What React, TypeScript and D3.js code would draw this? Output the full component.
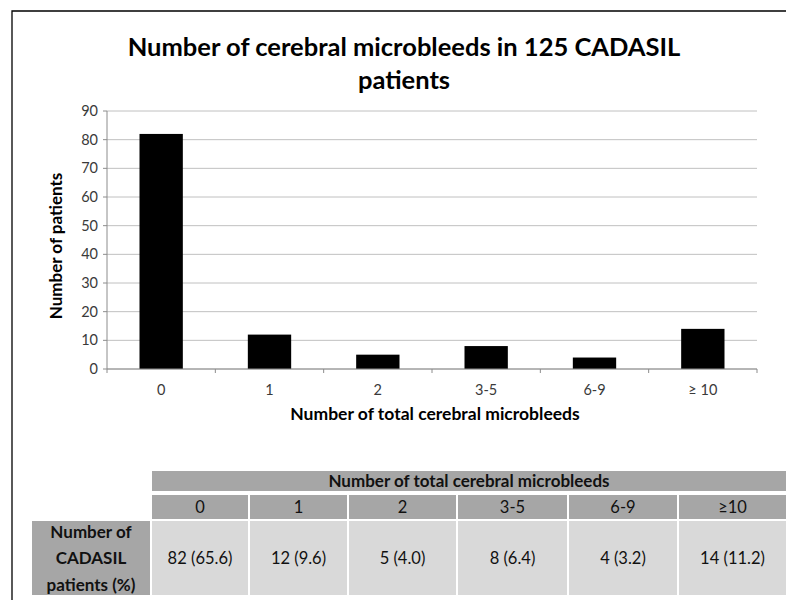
import React from 'react';
import * as d3 from 'd3';

// chart data
const categories = ['0', '1', '2', '3-5', '6-9', '≥ 10'];
const tableHeaders = ['0', '1', '2', '3-5', '6-9', '≥10'];
const patients = [82, 12, 5, 8, 4, 14];
const percents = ['65.6', '9.6', '4.0', '6.4', '3.2', '11.2'];
const rowLabel = ['Number of', 'CADASIL', 'patients (%)'];

const W = 786;
const H = 600;
const FONT = 'Lato, "Open Sans", sans-serif';

// plot area
const left = 107;
const right = 757;
const top = 111;
const bottom = 369;

// table column edges (px)
const colEdges = [152, 250, 349, 458, 569, 679, 800];

const App = () => {
  const x = d3.scaleBand<string>()
    .domain(categories)
    .range([left, right])
    .paddingInner(0.6)
    .paddingOuter(0.3);

  const y = d3.scaleLinear().domain([0, 90]).range([bottom, top]);
  const yTicks = y.ticks(9);
  const step = x.step();

  return (
    <svg
      width={W}
      height={H}
      style={{ position: 'absolute', left: 0, top: 0, background: '#fff' }}
      fontFamily={FONT}
    >
      <rect x={0} y={0} width={W} height={H} fill="#fff" />
      {/* outer frame */}
      <path d={`M12,${H} V11 H${W}`} fill="none" stroke="#000" strokeWidth={1.3} />

      {/* title */}
      <text x={404} y={56} textAnchor="middle" fontSize={25.5} fontWeight="bold" fill="#000">
        Number of cerebral microbleeds in 125 CADASIL
      </text>
      <text x={404} y={89} textAnchor="middle" fontSize={25.5} fontWeight="bold" fill="#000">
        patients
      </text>

      {/* gridlines + y ticks */}
      {yTicks.map(t => (
        <g key={t}>
          <line x1={left} x2={right} y1={y(t)} y2={y(t)} stroke="#c0c0c0" strokeWidth={1} />
          <line x1={left - 4} x2={left} y1={y(t)} y2={y(t)} stroke="#8c8c8c" strokeWidth={1} />
          <text x={left - 9} y={y(t)} dy="0.35em" textAnchor="end" fontSize={14.5} fill="#3a3a3a">
            {t}
          </text>
        </g>
      ))}

      {/* bars */}
      {categories.map((c, i) => (
        <rect
          key={c}
          x={x(c)}
          y={y(patients[i])}
          width={x.bandwidth()}
          height={bottom - y(patients[i])}
          fill="#000"
        />
      ))}

      {/* axes */}
      <line x1={left} x2={left} y1={top} y2={bottom} stroke="#8c8c8c" strokeWidth={1} />
      <line x1={left} x2={right} y1={bottom} y2={bottom} stroke="#8c8c8c" strokeWidth={1} />
      {d3.range(categories.length + 1).map(i => (
        <line
          key={i}
          x1={left + i * step}
          x2={left + i * step}
          y1={bottom}
          y2={bottom + 4}
          stroke="#8c8c8c"
        />
      ))}
      {categories.map(c => (
        <text
          key={c}
          x={(x(c) || 0) + x.bandwidth() / 2}
          y={390}
          dy="0.35em"
          textAnchor="middle"
          fontSize={14.5}
          fill="#3a3a3a"
        >
          {c}
        </text>
      ))}

      {/* axis titles */}
      <text x={(left + right) / 2 + 3} y={414} dy="0.35em" textAnchor="middle" fontSize={17.5} fontWeight="bold">
        Number of total cerebral microbleeds
      </text>
      <text
        transform={`translate(56,${(top + bottom) / 2 + 6}) rotate(-90)`}
        dy="0.35em"
        textAnchor="middle"
        fontSize={17}
        fontWeight="bold"
      >
        Number of patients
      </text>

      {/* table */}
      <rect x={colEdges[0]} y={471} width={W - colEdges[0]} height={20} fill="#a6a6a6" />
      <text x={(colEdges[0] + W) / 2} y={481} dy="0.35em" textAnchor="middle" fontSize={17} fontWeight="bold" fill="#111">
        Number of total cerebral microbleeds
      </text>
      {tableHeaders.map((h, i) => {
        const x0 = colEdges[i];
        const x1 = Math.min(colEdges[i + 1] - 2, W);
        return (
          <g key={h}>
            <rect x={x0} y={495} width={x1 - x0} height={24} fill="#a6a6a6" />
            <text x={(x0 + x1) / 2} y={507} dy="0.35em" textAnchor="middle" fontSize={16.5} fill="#111">
              {h}
            </text>
            <rect x={x0} y={521} width={x1 - x0} height={74} fill="#d9d9d9" />
            <text x={(x0 + x1) / 2} y={558} dy="0.35em" textAnchor="middle" fontSize={16.5} fill="#111">
              {`${patients[i]} (${percents[i]})`}
            </text>
          </g>
        );
      })}
      <rect x={32} y={521} width={118} height={74} fill="#a6a6a6" />
      {rowLabel.map((l, i) => (
        <text key={l} x={91} y={532 + i * 26.5} dy="0.35em" textAnchor="middle" fontSize={17} fontWeight="bold" fill="#111">
          {l}
        </text>
      ))}
    </svg>
  );
};

export default App;
